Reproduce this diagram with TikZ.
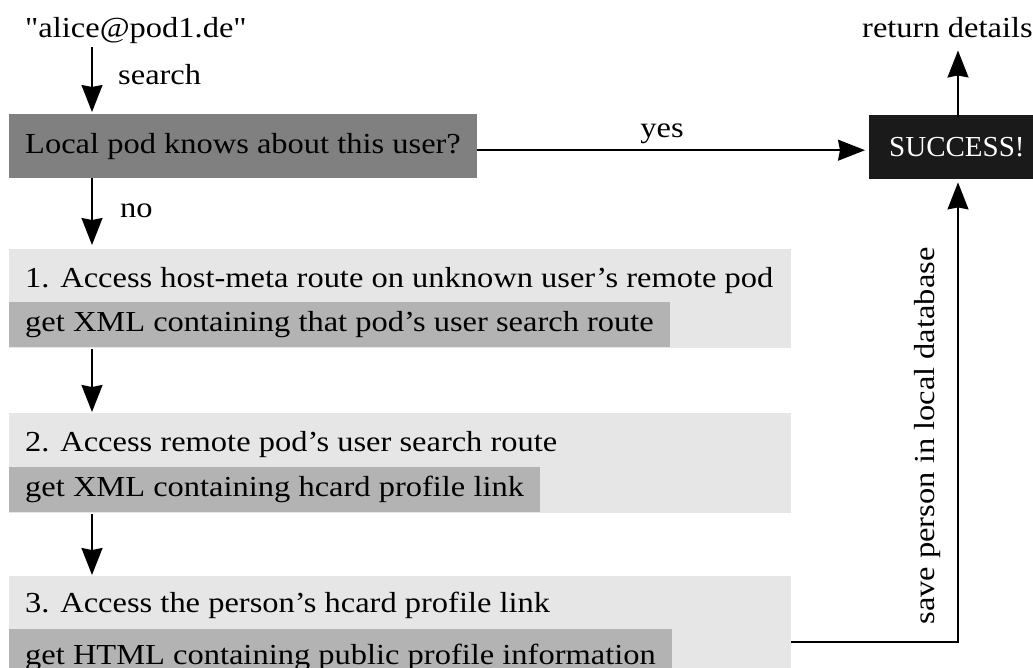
\documentclass[tikz,border=0pt]{standalone}
\usepackage{fontspec}
\setmainfont{Liberation Serif}[FakeStretch=1.12, Ligatures=TeXOff]
\newfontfamily\plainserif{Liberation Serif}[Ligatures=TeXOff]
\usetikzlibrary{arrows.meta}
\definecolor{qgray}{HTML}{808080}
\definecolor{stepbg}{HTML}{E6E6E6}
\definecolor{replybg}{HTML}{B3B3B3}
\definecolor{okbg}{HTML}{1A1A1A}
\begin{document}
\begin{tikzpicture}[x=1pt,y=-1pt,
  every node/.style={font=\fontsize{29}{34}\selectfont, inner sep=0pt},
  lbl/.style={anchor=base west},
  flow/.style={line width=1.6pt, -{Stealth[length=27pt,width=21pt,inset=2pt]}},
  stepbox/.style={fill=stepbg, anchor=north west, minimum width=782pt},
  replybox/.style={fill=replybg, anchor=north west, inner xsep=16pt},
]
\useasboundingbox (0,0) rectangle (1033,667);

% column positions of the vertical connectors
\coordinate (colL) at (92,0);
\coordinate (colR) at (958,0);

% start and decision
\node[lbl] (alice) at (25,37) {"alice@pod1.de"};
\node[fill=qgray, anchor=north west, minimum height=64pt, inner xsep=16pt] (check) at (9,114) {Local pod knows about this user?};
\node[fill=okbg, text=white, anchor=north west, minimum height=64pt, inner xsep=20pt,
      font=\fontsize{29}{34}\plainserif] (ok) at (869,115) {SUCCESS!};
\node[lbl] (ret) at (862,37) {return details};

% step 1
\node[stepbox, minimum height=99pt] (s1) at (9,249) {};
\node[lbl] (s1a) at (25,287) {1. Access host-meta route on unknown user’s remote pod};
\node[replybox, minimum height=45pt] (s1b) at (9,302) {get XML containing that pod’s user search route};

% step 2
\node[stepbox, minimum height=100pt] (s2) at (9,413) {};
\node[lbl] (s2a) at (25,451) {2. Access remote pod’s user search route};
\node[replybox, minimum height=45pt] (s2b) at (9,467) {get XML containing hcard profile link};

% step 3
\node[stepbox, minimum height=132pt] (s3) at (9,576) {};
\node[lbl] (s3a) at (25,612) {3. Access the person’s hcard profile link};
\node[replybox, minimum height=57pt] (s3b) at (9,629) {get HTML containing public profile information};

% connectors
\draw[flow, shorten <=4pt, shorten >=2pt] (alice.south -| colL) -- (check.north -| colL);
\node[lbl] (search) at (118,84) {search};
\draw[flow, shorten >=4pt] (check.south -| colL) -- (s1.north -| colL);
\node[lbl] (no) at (120,217) {no};
\draw[flow, shorten <=1pt, shorten >=1pt] (s1.south -| colL) -- (s2.north -| colL);
\draw[flow, shorten <=1pt, shorten >=1pt] (s2.south -| colL) -- (s3.north -| colL);

\draw[flow, shorten >=4pt] ([yshift=-4pt]check.east) -- ([yshift=-4pt]check.east -| ok.west);
\node[anchor=base] (yes) at (662,137) {yes};

\draw[flow, shorten <=-2pt, shorten >=13pt] (ok.north -| colR) -- (ret.south -| colR);

\draw[flow, shorten >=3pt] (s3.east) -| (ok.south -| colR);
\node[rotate=90, anchor=base] (save) at (934,436) {save person in local database};
\end{tikzpicture}
\end{document}
